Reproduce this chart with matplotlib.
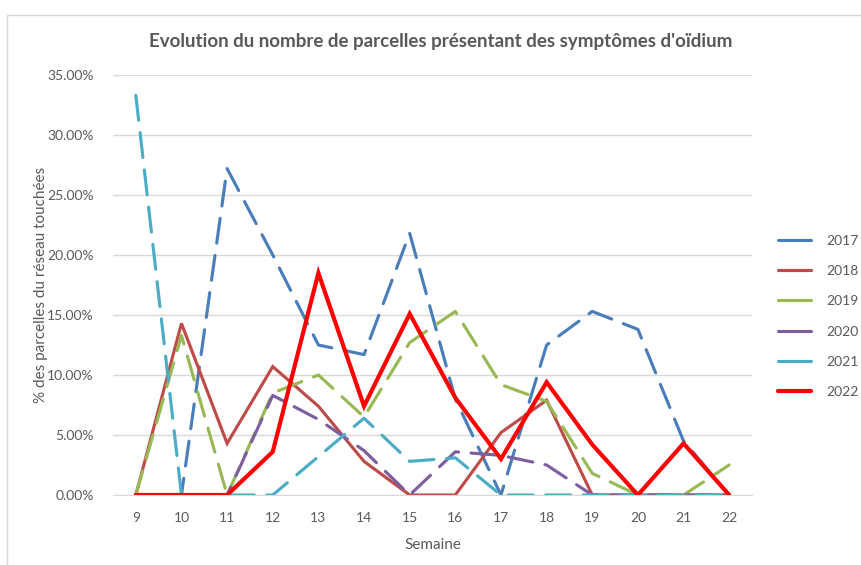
import matplotlib.pyplot as plt
from matplotlib.patches import Rectangle

# Semaines et % de parcelles touchées
weeks = [9, 10, 11, 12, 13, 14, 15, 16, 17, 18, 19, 20, 21, 22]
y2017 = [0, 0, 27.2, 20.0, 12.5, 11.7, 21.8, 8.0, 0, 12.5, 15.3, 13.8, 4.5, 0]
y2018 = [0, 14.3, 4.3, 10.7, 7.4, 2.8, 0, 0, 5.2, 7.9, 0, 0, 0, 0]
y2019 = [0, 13.3, 0, 8.5, 10.0, 6.5, 12.7, 15.3, 9.2, 7.8, 1.8, 0, 0, 2.5]
y2020 = [0, 0, 0, 8.3, 6.3, 3.7, 0, 3.6, 3.3, 2.5, 0, 0, 0, 0]
y2021 = [33.3, 0, 0, 0, 3.2, 6.4, 2.8, 3.1, 0, 0, 0, 0, 0, 0]
y2022 = [0, 0, 0, 3.6, 18.5, 7.4, 15.1, 8.1, 3.0, 9.4, 4.2, 0, 4.3, 0]

years = ["2017", "2018", "2019", "2020", "2021", "2022"]
series = [y2017, y2018, y2019, y2020, y2021, y2022]
colors = ["#4A7EBB", "#BE4B48", "#98B954", "#7D5FA0", "#4BACC6", "#FF0000"]
dashed = [True, False, True, True, True, False]

plt.rcParams['font.family'] = ['Lato', 'DejaVu Sans']
grey = "#595959"

fig = plt.figure(figsize=(8.61, 5.65), dpi=100)
# chart border (Excel frame, only top/left visible)
fig.patches.append(Rectangle((7 / 861, -0.1), 1.2, 1 - 15 / 565 + 0.1,
                             transform=fig.transFigure, fill=False,
                             edgecolor="#D9D9D9", lw=1))

ax = fig.add_axes([113 / 861, 1 - 495 / 565, (752 - 113) / 861, (495 - 75) / 565])

for yr, vals, c, d in zip(years, series, colors, dashed):
    lw = 3.0 if yr == "2022" else 2.25
    if d:
        ax.plot(weeks, vals, color=c, lw=lw, dashes=(8, 4),
                dash_capstyle='round', label=yr)
    else:
        ax.plot(weeks, vals, color=c, lw=lw, solid_capstyle='round',
                solid_joinstyle='miter', label=yr)

ax.set_xlim(8.5, 22.5)
ax.set_ylim(0, 35)
ax.set_xticks(weeks)
ax.set_yticks(range(0, 36, 5))
ax.set_yticklabels([f"{v:.2f}%" for v in range(0, 36, 5)])
ax.grid(axis='y', color="#D9D9D9", lw=1)
ax.set_axisbelow(True)
for s in ["top", "right", "left"]:
    ax.spines[s].set_visible(False)
ax.spines["bottom"].set_color("#D9D9D9")
ax.tick_params(length=0, colors=grey, labelsize=10)
ax.tick_params(axis='x', pad=12)
ax.tick_params(axis='y', pad=14)

ax.set_xlabel("Semaine", color=grey, fontsize=11, labelpad=10)
ax.set_ylabel("% des parcelles du réseau touchées", color=grey, fontsize=11, labelpad=-1)
fig.text(441 / 861, 1 - 42 / 565, "Evolution du nombre de parcelles présentant des symptômes d'oïdium",
         ha='center', va='center', fontsize=13.5, fontweight='bold', color=grey)

leg_handles = [plt.Line2D([], [], color=c, lw=(3.0 if y == "2022" else 2.25), solid_capstyle='round')
               for y, c in zip(years, colors)]
fig.legend(leg_handles, years, loc='upper left', bbox_to_anchor=(765 / 861, 1 - 222 / 565),
           frameon=False, fontsize=10, labelcolor=grey, handlelength=2.4,
           handletextpad=1.1, labelspacing=1.32)

fig.savefig("out.png", dpi=100)
